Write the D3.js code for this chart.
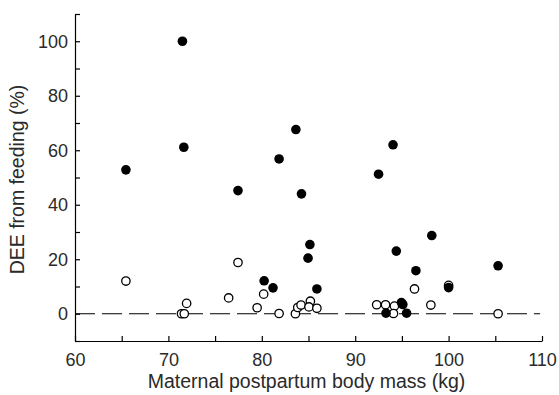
<!DOCTYPE html>
<html>
  <head>
    <meta charset="utf-8">
    <title>DEE from feeding</title>
    <script src="https://cdn.jsdelivr.net/npm/d3@7"></script>
    <style>
      body { margin: 0; background: #fff; }
      svg { font-family: "Liberation Sans", Arial, Helvetica, sans-serif; }
      .axis path, .axis line { stroke: #000; stroke-width: 1.2; }
      .axis text { font-size: 18px; fill: #2a2a2a; }
      .title { font-size: 19.5px; fill: #2a2a2a; }
    </style>
  </head>
  <body>
    <svg id="chart" width="559" height="395"></svg>

    <script>
      // data: filled circles
      filledMass = [71.5, 71.65, 65.45, 77.45, 83.65, 81.85, 84.25, 94.05, 92.5, 80.25, 81.2,
        85.15, 84.95, 85.9, 94.4, 96.5, 98.2, 100.0, 105.3, 94.95, 95.1, 93.3, 95.5];
      filledDEE = [100, 61.1, 52.8, 45.2, 67.6, 56.8, 44.0, 62.0, 51.2, 12.1, 9.5,
        25.4, 20.4, 9.1, 23.0, 15.8, 28.7, 9.6, 17.6, 4.1, 3.4, 0.2, 0.2];

      // data: open circles
      openMass = [65.45, 77.45, 71.95, 71.4, 71.7, 76.45, 79.5, 80.2, 81.85, 83.6, 83.85, 84.2,
        85.2, 85.05, 85.9, 92.3, 93.25, 94.2, 94.1, 96.35, 98.1, 100.0, 105.3];
      openDEE = [12.0, 18.8, 3.8, 0, 0, 5.8, 2.2, 7.2, 0.1, 0, 2.3, 3.2,
        4.6, 2.5, 2.0, 3.3, 3.3, 2.8, 0.1, 9.1, 3.2, 10.4, 0];

      xTicks = d3.range(60, 111, 5);
      xLabels = [60, 70, 80, 90, 100, 110];
      yTicks = d3.range(-10, 111, 10);
      yLabels = [0, 20, 40, 60, 80, 100];

      chart = d3.select("#chart");
      margin = {top: 14, right: 17, bottom: 54, left: 75};
      width = 559;
      height = 395;

      scaleX = d3.scaleLinear()
        .domain([60, 110])
        .range([margin.left, width - margin.right]);

      scaleY = d3.scaleLinear()
        .domain([-10, 110])
        .range([height - margin.bottom, margin.top]);

      axisX = d3.axisBottom(scaleX)
        .tickValues(xTicks)
        .tickSizeInner(-5)
        .tickSizeOuter(0)
        .tickPadding(12)
        .tickFormat(d => xLabels.includes(d) ? d : "");

      axisY = d3.axisLeft(scaleY)
        .tickValues(yTicks)
        .tickSizeInner(-5)
        .tickSizeOuter(0)
        .tickPadding(7)
        .tickFormat(d => yLabels.includes(d) ? d : "");

      chart.append("g")
        .attr("class", "axis")
        .attr("transform", "translate(0," + scaleY(-10) + ")")
        .call(axisX);

      chart.append("g")
        .attr("class", "axis")
        .attr("transform", "translate(" + scaleX(60) + ",0)")
        .call(axisY);

      // zero line
      chart.append("line")
        .attr("x1", scaleX(60))
        .attr("x2", scaleX(109.8))
        .attr("y1", scaleY(0))
        .attr("y2", scaleY(0))
        .attr("stroke", "#000")
        .attr("stroke-width", 1.1)
        .attr("stroke-dasharray", "20,7");

      openData = openMass.map((m, i) => ({m: m, v: openDEE[i]}));
      filledData = filledMass.map((m, i) => ({m: m, v: filledDEE[i]}));

      chart.append("g")
        .selectAll("circle")
          .data(openData)
        .enter().append("circle")
          .attr("cx", d => scaleX(d.m))
          .attr("cy", d => scaleY(d.v))
          .attr("r", 4.2)
          .attr("fill", "#fff")
          .attr("stroke", "#000")
          .attr("stroke-width", 1.3);

      chart.append("g")
        .selectAll("circle")
          .data(filledData)
        .enter().append("circle")
          .attr("cx", d => scaleX(d.m))
          .attr("cy", d => scaleY(d.v))
          .attr("r", 4.8)
          .attr("fill", "#000");

      // titles
      chart.append("text")
        .attr("class", "title")
        .attr("x", (scaleX(60) + scaleX(110)) / 2 - 2)
        .attr("y", 388)
        .attr("text-anchor", "middle")
        .text("Maternal postpartum body mass (kg)");

      chart.append("text")
        .attr("class", "title")
        .attr("transform", "translate(24," + (scaleY(50) + 2) + ") rotate(-90)")
        .attr("text-anchor", "middle")
        .text("DEE from feeding (%)");
    </script>
  </body>
</html>
